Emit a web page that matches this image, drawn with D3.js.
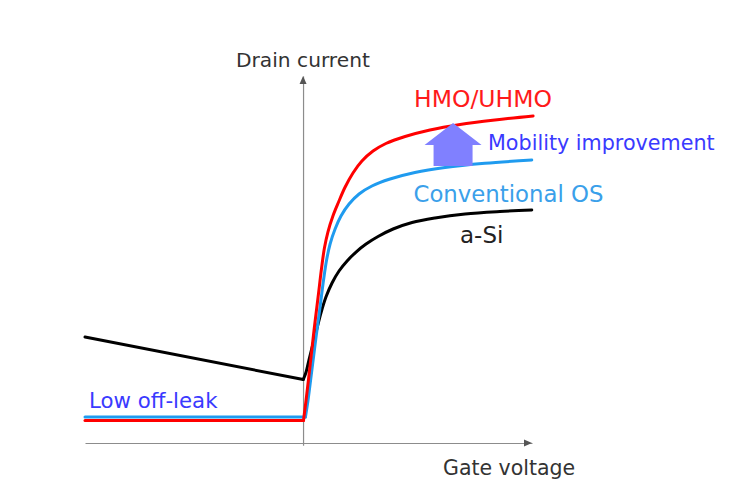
<!DOCTYPE html>
<html>
<head>
<meta charset="utf-8">
<script src="https://cdn.jsdelivr.net/npm/d3@7"></script>
<style>
  html, body { margin: 0; padding: 0; background: #fff; }
  svg { display: block; font-family: "DejaVu Sans", Verdana, sans-serif; }
</style>
</head>
<body>
<svg id="chart" width="730" height="485"></svg>
<script>
// ---- Data (gate voltage in arbitrary V, drain current in arbitrary units) ----
const seriesNames = ["a-Si", "Conventional OS", "HMO/UHMO"];

// off-state (linear) segments
const aSiOff  = [[-10, 28.88], [0.01, 17.30]];
const convOff = [[-10, 7.08], [0.11, 7.08]];
const hmoOff  = [[-10, 6.13], [0.02, 6.13]];

// on-state (rising, saturating) segments
const aSiOn = [[0.01, 17.30], [0.14, 19.35], [0.27, 22.62], [0.43, 26.43], [0.62, 30.79],
  [0.82, 35.42], [1.05, 39.78], [1.33, 43.60], [1.65, 46.87], [2.02, 49.59],
  [2.43, 52.04], [2.89, 54.22], [3.44, 56.27], [4.13, 58.31], [5.00, 60.08],
  [6.05, 61.31], [7.43, 62.40], [9.03, 63.08], [10.49, 63.49]];
const convOn = [[0.11, 7.08], [0.23, 11.72], [0.41, 20.16], [0.59, 28.61], [0.78, 37.06],
  [0.94, 44.41], [1.08, 49.86], [1.24, 54.22], [1.47, 58.31], [1.74, 61.85],
  [2.11, 65.12], [2.57, 67.85], [3.16, 70.03], [3.99, 71.93], [5.13, 73.71],
  [6.51, 75.07], [8.34, 76.21], [10.49, 77.11]];
const hmoOn = [[0.02, 6.13], [0.14, 11.72], [0.32, 20.98], [0.50, 30.52], [0.69, 39.78],
  [0.85, 47.68], [0.98, 53.13], [1.14, 57.49], [1.37, 61.85], [1.63, 65.67],
  [1.92, 69.62], [2.29, 73.57], [2.70, 76.84], [3.21, 79.56], [3.80, 81.61],
  [4.68, 83.51], [5.82, 85.29], [7.20, 86.78], [8.80, 88.01], [10.55, 89.10]];

// mobility-improvement arrow: [gate voltage, bottom current, head-base current, tip current]
const arrowSpec = [6.88, 75.48, 81.20, 87.19];

const axisLabels = ["Gate voltage", "Drain current"];
const annotations = ["HMO/UHMO", "Mobility improvement", "Conventional OS", "a-Si", "Low off-leak"];

// ---- Scales ----
const svg = d3.select("#chart");
const x = d3.scaleLinear().domain([-10, 10.5]).range([85, 532]);
const y = d3.scaleLinear().domain([0, 100]).range([443, 76]);

const axisColor = "#8c8c8c";

// ---- Axes (no ticks) ----
const gx = svg.append("g").attr("transform", `translate(0,${y(0)})`)
  .call(d3.axisBottom(x).ticks(0).tickSizeOuter(0));
gx.select(".domain").attr("stroke", axisColor).attr("stroke-width", 1.2);

const gy = svg.append("g").attr("transform", `translate(${x(0)},0)`)
  .call(d3.axisLeft(d3.scaleLinear().domain([-0.6, 100]).range([y(-0.6), y(100)])).ticks(0).tickSizeOuter(0));
gy.select(".domain").attr("stroke", axisColor).attr("stroke-width", 1.2);

// arrowheads
svg.append("path")
  .attr("d", `M${x(10.5)},${y(0)} l-8,-3.5 l0,7 Z`)
  .attr("fill", "#555");
svg.append("path")
  .attr("d", `M${x(0)},${y(100)} l-3.5,8 l7,0 Z`)
  .attr("fill", "#555");

// ---- Curves ----
const lineLin = d3.line().x(d => x(d[0])).y(d => y(d[1]));
const lineOn = d3.line().x(d => x(d[0])).y(d => y(d[1])).curve(d3.curveCatmullRom.alpha(0.5));

const series = [
  { off: aSiOff, on: aSiOn, color: "#000000" },
  { off: convOff, on: convOn, color: "#1f9bef" },
  { off: hmoOff, on: hmoOn, color: "#ff0000" }
];

series.forEach(s => {
  svg.append("path").attr("d", lineLin(s.off))
    .attr("fill", "none").attr("stroke", s.color).attr("stroke-width", 3)
    .attr("stroke-linecap", "round").attr("stroke-linejoin", "round");
  svg.append("path").attr("d", lineOn(s.on))
    .attr("fill", "none").attr("stroke", s.color).attr("stroke-width", 3)
    .attr("stroke-linecap", "round").attr("stroke-linejoin", "round");
});

// ---- Mobility improvement arrow ----
{
  const cx = x(arrowSpec[0]);
  const yb = y(arrowSpec[1]), yh = y(arrowSpec[2]), yt = y(arrowSpec[3]);
  const shaftHalf = 19.5, headHalf = 28.5;
  const pts = [
    [cx - shaftHalf, yb], [cx - shaftHalf, yh], [cx - headHalf, yh], [cx, yt],
    [cx + headHalf, yh], [cx + shaftHalf, yh], [cx + shaftHalf, yb]
  ];
  svg.append("path").attr("d", d3.line()(pts) + "Z").attr("fill", "#8080ff");
}

// ---- Text ----
function label(txt, px, py, size, color) {
  svg.append("text").attr("x", px).attr("y", py)
    .attr("font-size", size).attr("fill", color).text(txt);
}
label(axisLabels[1], 236, 66.5, 20.2, "#333333");
label(axisLabels[0], 443, 475, 20.5, "#333333");
label(annotations[0], 414, 106.5, 23.5, "#ff1a1a");
label(annotations[1], 488, 150, 20.7, "#3a3aff");
label(annotations[2], 413.5, 201.5, 22.8, "#3aa0ea");
label(annotations[3], 460, 243, 23, "#222222");
label(annotations[4], 89, 408, 21.3, "#3a3aff");
</script>
</body>
</html>
